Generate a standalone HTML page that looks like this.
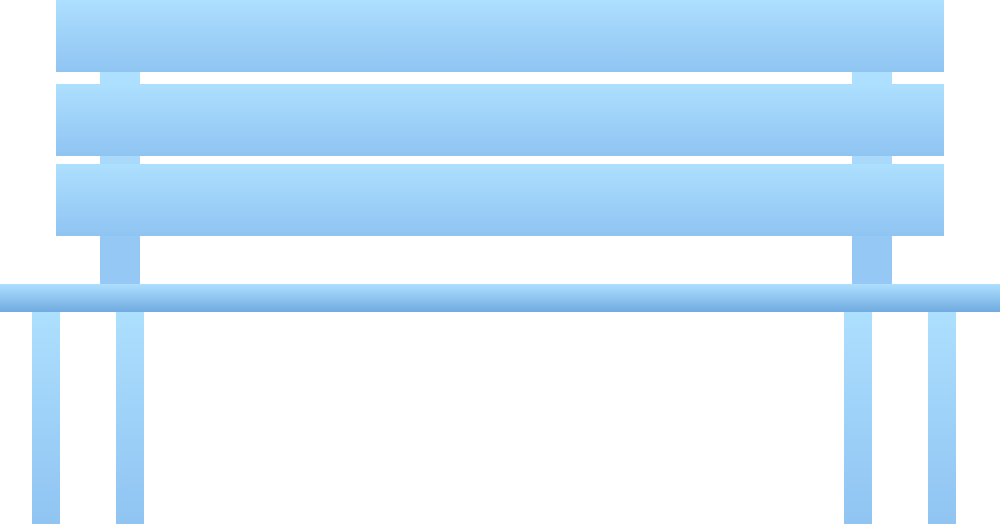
<!DOCTYPE html>
<html><head><style>
body{margin:0;width:1000px;height:524px;background:#fff;position:relative;overflow:hidden}
div{position:absolute}
.s{left:56px;width:888px;height:72px;background:linear-gradient(#addffe,#90c4f2)}
.p{width:40px}
.l{top:312px;width:28px;height:212px;background:linear-gradient(#addffe,#90c4f2)}
</style></head><body>
<div class="p" style="left:100px;top:60px;height:30px;background:#addffe"></div>
<div class="p" style="left:852px;top:60px;height:30px;background:#addffe"></div>
<div class="p" style="left:100px;top:150px;height:20px;background:#a9dafc"></div>
<div class="p" style="left:852px;top:150px;height:20px;background:#a9dafc"></div>
<div class="p" style="left:100px;top:230px;height:60px;background:#95c8f4"></div>
<div class="p" style="left:852px;top:230px;height:60px;background:#95c8f4"></div>
<div class="s" style="top:0"></div>
<div class="s" style="top:84px"></div>
<div class="s" style="top:164px"></div>
<div style="left:0;top:284px;width:1000px;height:28px;background:linear-gradient(#addffe,#70abe0)"></div>
<div class="l" style="left:32px"></div>
<div class="l" style="left:116px"></div>
<div class="l" style="left:844px"></div>
<div class="l" style="left:928px"></div>
</body></html>
